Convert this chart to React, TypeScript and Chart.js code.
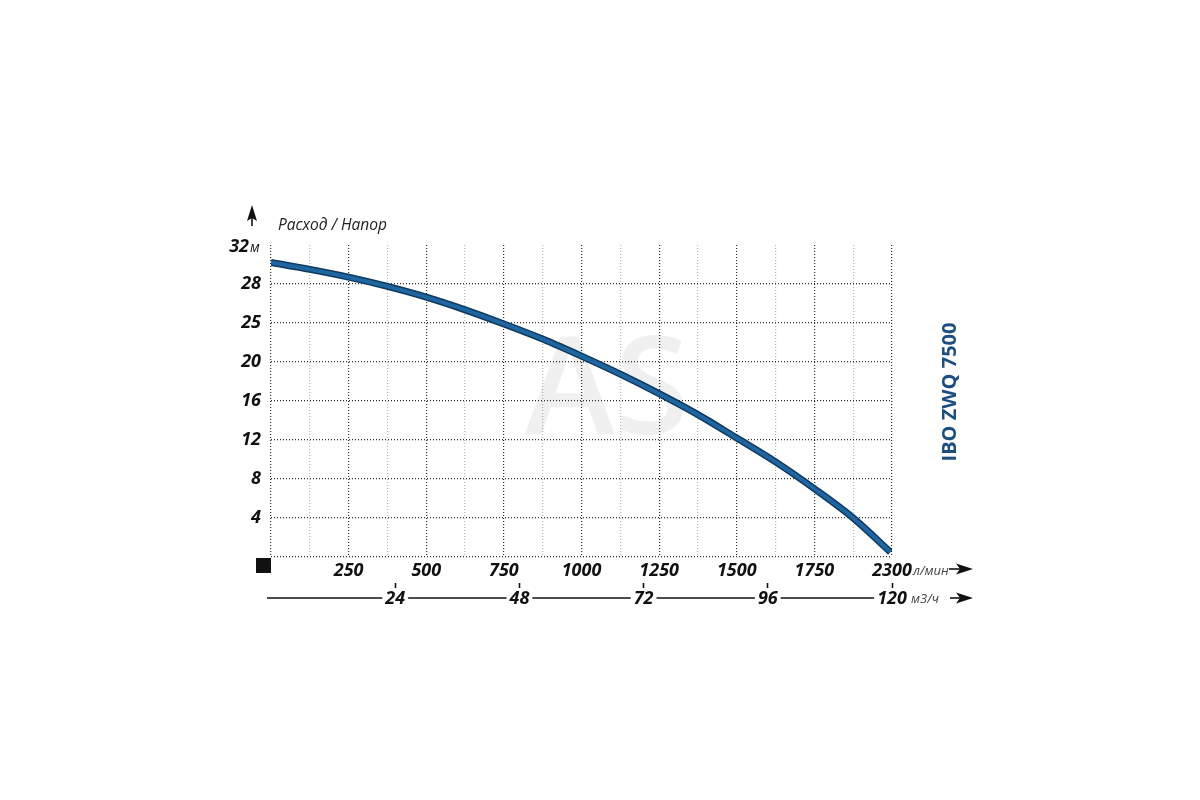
import React, { useEffect, useRef } from "react";
import { Chart, registerables, type Plugin } from "chart.js";

Chart.register(...registerables);

// Расход / Напор
const flowLpm = [0, 125, 250, 375, 500, 625, 750, 875, 1000, 1125, 1250, 1375, 1500, 1625, 1750, 1875, 1995];
const headM = [30.2, 29.5, 28.7, 27.75, 26.65, 25.35, 23.9, 22.35, 20.6, 18.75, 16.75, 14.6, 12.2, 9.75, 7.0, 4.0, 0.5];

// axis labels as printed on the chart
const flowTicks = [250, 500, 750, 1000, 1250, 1500, 1750, 2000];
const flowTickLabels = ["250", "500", "750", "1000", "1250", "1500", "1750", "2300"];
const m3hTicks = [24, 48, 72, 96, 120];
const headTicks = [4, 8, 12, 16, 20, 24, 28];
const headTickLabels = ["4", "8", "12", "16", "20", "25", "28"];

const TITLE = "IBO ZWQ 7500";
const FONT = "'Open Sans', 'Noto Sans', sans-serif";
const tickFont = { family: FONT, size: 18, weight: "bold" as const, style: "italic" as const };

const GRID_DARK = "#2e2e2e";
const GRID_LIGHT = "#b8b8b8";

const arrowRight = (ctx: CanvasRenderingContext2D, x0: number, x1: number, y: number) => {
  ctx.beginPath();
  ctx.moveTo(x0, y);
  ctx.lineTo(x1 - 12, y);
  ctx.lineWidth = 1.6;
  ctx.strokeStyle = "#111";
  ctx.stroke();
  ctx.beginPath();
  ctx.moveTo(x1, y);
  ctx.lineTo(x1 - 17, y - 5.5);
  ctx.lineTo(x1 - 13, y);
  ctx.lineTo(x1 - 17, y + 5.5);
  ctx.closePath();
  ctx.fillStyle = "#111";
  ctx.fill();
};

const decorPlugin: Plugin = {
  id: "decor",
  beforeDraw(chart) {
    // line of the second (m3/h) axis, labels cover it with a white backdrop
    const { ctx, chartArea } = chart;
    const x2 = chart.scales.x2;
    const y = chartArea.bottom + 41;
    ctx.save();
    ctx.beginPath();
    ctx.moveTo(chartArea.left - 4, y);
    ctx.lineTo(x2.getPixelForValue(m3hTicks[m3hTicks.length - 1]), y);
    ctx.lineWidth = 1.6;
    ctx.strokeStyle = "#111";
    ctx.stroke();
    ctx.restore();
  },
  beforeDatasetsDraw(chart) {
    const { ctx, chartArea } = chart;
    ctx.save();
    ctx.font = `600 136px ${FONT}`;
    ctx.fillStyle = "rgba(0,0,0,0.06)";
    ctx.textAlign = "center";
    ctx.textBaseline = "middle";
    ctx.fillText("AS", chartArea.left + 336, chartArea.top + 150);
    ctx.restore();
  },
  afterDraw(chart) {
    const { ctx, chartArea } = chart;
    const { left, right, top, bottom } = chartArea;
    const yTop = chart.scales.y.getPixelForValue(32);
    ctx.save();

    // vertical arrow
    ctx.beginPath();
    ctx.moveTo(left - 19, top - 19);
    ctx.lineTo(left - 19, top - 30);
    ctx.lineWidth = 1.6;
    ctx.strokeStyle = "#111";
    ctx.stroke();
    ctx.beginPath();
    ctx.moveTo(left - 19, top - 40);
    ctx.lineTo(left - 24, top - 24);
    ctx.lineTo(left - 19, top - 27);
    ctx.lineTo(left - 14, top - 24);
    ctx.closePath();
    ctx.fillStyle = "#111";
    ctx.fill();

    ctx.fillStyle = "#222";
    ctx.textBaseline = "middle";
    ctx.textAlign = "left";
    ctx.font = `italic 400 15.5px ${FONT}`;
    ctx.fillText("Расход / Напор", left + 7, top - 19);

    // top y label with unit
    ctx.textBaseline = "alphabetic";
    ctx.textAlign = "right";
    ctx.fillStyle = "#111";
    ctx.font = `italic bold 18px ${FONT}`;
    ctx.fillText("32", left - 22, yTop + 7);
    ctx.textAlign = "left";
    ctx.font = `italic 400 14px ${FONT}`;
    ctx.fillText("м", left - 21, yTop + 7);

    // origin square
    ctx.fillStyle = "#111";
    ctx.fillRect(left - 15, bottom + 1, 15, 15);

    // units and arrows
    ctx.fillStyle = "#444";
    ctx.font = `italic 400 13px ${FONT}`;
    ctx.fillText("л/мин", right + 21, bottom + 18);
    ctx.fillText("м3/ч", right + 19, bottom + 46);
    arrowRight(ctx, right + 57, right + 81, bottom + 12);
    arrowRight(ctx, right + 58, right + 81, bottom + 41);

    // model title
    ctx.translate(right + 58, top + 147);
    ctx.rotate(-Math.PI / 2);
    ctx.textAlign = "center";
    ctx.textBaseline = "middle";
    ctx.fillStyle = "#1d4e80";
    ctx.font = `bold 20px ${FONT}`;
    ctx.fillText(TITLE, 0, 0);
    ctx.restore();
  },
};

export default function App() {
  const canvasRef = useRef<HTMLCanvasElement>(null);

  useEffect(() => {
    if (!canvasRef.current) return;
    const points = flowLpm.map((x, i) => ({ x, y: headM[i] }));

    const chart = new Chart(canvasRef.current, {
      type: "line",
      data: {
        datasets: [
          {
            data: points,
            borderColor: "#1f65a0",
            borderWidth: 4,
            pointRadius: 0,
            cubicInterpolationMode: "monotone",
          },
          {
            data: points,
            borderColor: "#0f3a62",
            borderWidth: 7,
            pointRadius: 0,
            cubicInterpolationMode: "monotone",
          },
        ],
      },
      options: {
        animation: false,
        responsive: true,
        maintainAspectRatio: false,
        layout: { padding: { left: 200, right: 308, top: 245, bottom: 187 } },
        plugins: { legend: { display: false }, tooltip: { enabled: false } },
        scales: {
          x: {
            type: "linear",
            min: 0,
            max: 2000,
            weight: 0,
            border: { display: false, dash: [1, 2] },
            grid: {
              drawTicks: false,
              lineWidth: 1.2,
              color: (c: any) => (c.tick && c.tick.value % 250 === 0 ? GRID_DARK : GRID_LIGHT),
            },
            ticks: {
              stepSize: 125,
              autoSkip: false,
              maxRotation: 0,
              padding: 3,
              color: "#111",
              font: tickFont,
              callback: (v: any) => {
                const i = flowTicks.indexOf(Number(v));
                return i >= 0 ? flowTickLabels[i] : "";
              },
            },
            afterFit: (s: any) => {
              s.height = 26;
              s.paddingLeft = 0;
              s.paddingRight = 0;
            },
          },
          x2: {
            type: "linear",
            position: "bottom",
            min: 0,
            max: 120,
            weight: 1,
            border: { display: false },
            grid: {
              drawOnChartArea: false,
              drawTicks: true,
              tickLength: 5,
              tickColor: "#111",
              tickWidth: 1.6,
            },
            afterBuildTicks: (s: any) => {
              s.ticks = m3hTicks.map((value) => ({ value }));
            },
            ticks: {
              autoSkip: false,
              maxRotation: 0,
              padding: 0,
              color: "#111",
              font: tickFont,
              showLabelBackdrop: true,
              backdropColor: "#ffffff",
              backdropPadding: { left: 3, right: 3, top: 0, bottom: 0 },
              callback: (v: any) => String(v),
            },
            afterFit: (s: any) => {
              s.height = 30;
              s.paddingLeft = 0;
              s.paddingRight = 0;
            },
          },
          y: {
            type: "linear",
            min: 0,
            max: 32,
            border: { display: false, dash: [1, 2] },
            grid: {
              drawTicks: false,
              lineWidth: 1.2,
              color: (c: any) => (c.tick && c.tick.value === 32 ? "rgba(0,0,0,0)" : GRID_DARK),
            },
            ticks: {
              stepSize: 4,
              padding: 10,
              color: "#111",
              font: tickFont,
              callback: (v: any) => {
                const i = headTicks.indexOf(Number(v));
                return i >= 0 ? headTickLabels[i] : "";
              },
            },
            afterFit: (s: any) => {
              s.width = 71;
              s.paddingTop = 0;
              s.paddingBottom = 0;
            },
          },
        },
      },
      plugins: [decorPlugin],
    });

    return () => chart.destroy();
  }, []);

  return (
    <div style={{ position: "fixed", left: 0, top: 0, width: 1200, height: 800, background: "#fff" }}>
      <canvas ref={canvasRef} />
    </div>
  );
}
